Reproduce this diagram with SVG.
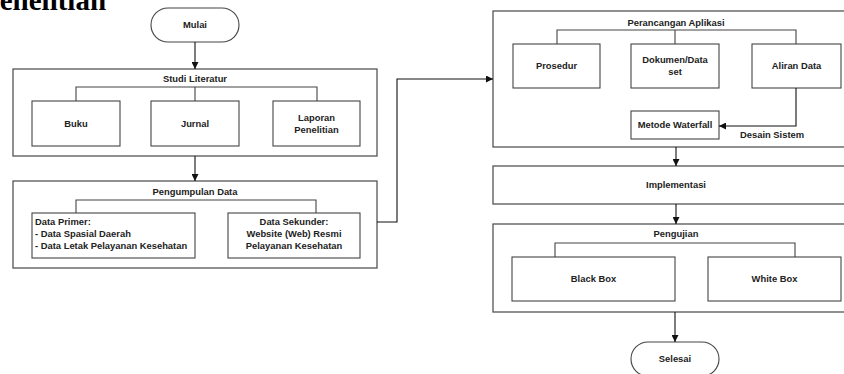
<svg xmlns="http://www.w3.org/2000/svg" width="844" height="374" viewBox="0 0 844 374">
<defs>
<marker id="ah" viewBox="0 0 10 10" refX="10" refY="5" markerWidth="7" markerHeight="7" markerUnits="userSpaceOnUse" orient="auto">
<path d="M0,0 L10,5 L0,10 z" fill="#111"/>
</marker>
</defs>
<style>
.outer{fill:#fff;stroke:#555;stroke-width:1.3}
.box{fill:#fff;stroke:#444;stroke-width:1.1}
.br{fill:none;stroke:#444;stroke-width:1.1}
.c{fill:none;stroke:#111;stroke-width:1.1}
text{font-family:"Liberation Sans",Arial,sans-serif;font-size:9.4px;font-weight:bold;fill:#222}
.m{text-anchor:middle}
.hd{font-family:"Liberation Serif","Times New Roman",serif;font-size:29px;font-weight:bold;fill:#000}
</style>
<rect width="844" height="374" fill="#fff"/>
<text class="hd" x="-18" y="10">Penelitian</text>

<g id="mulai"><rect class="box" x="151" y="8" width="88" height="34" rx="17"/><text class="m" x="195" y="28">Mulai</text></g>

<g id="studi-literatur">
<rect class="outer" x="13" y="69" width="364" height="87"/>
<text class="m" x="195" y="82">Studi Literatur</text>
<path class="br" d="M76,101 V87 H317 V101 M195,87 V101"/>
</g>
<g id="buku"><rect class="box" x="32" y="101" width="88" height="45"/><text class="m" x="76" y="127">Buku</text></g>
<g id="jurnal"><rect class="box" x="151" y="101" width="88" height="45"/><text class="m" x="195" y="127">Jurnal</text></g>
<g id="laporan"><rect class="box" x="273" y="101" width="87" height="45"/><text class="m" x="316.5" y="121">Laporan</text><text class="m" x="316.5" y="133">Penelitian</text></g>

<g id="pengumpulan-data">
<rect class="outer" x="13" y="181" width="364" height="87"/>
<text class="m" x="195" y="195">Pengumpulan Data</text>
<path class="br" d="M76,213 V200 H316 V213"/>
</g>
<g id="data-primer"><rect class="box" x="32" y="213" width="163" height="45"/>
<text x="35" y="225">Data Primer:</text><text x="35" y="237">- Data Spasial Daerah</text><text x="35" y="249">- Data Letak Pelayanan Kesehatan</text></g>
<g id="data-sekunder"><rect class="box" x="228" y="213" width="132" height="45"/>
<text class="m" x="294" y="225">Data Sekunder:</text><text class="m" x="294" y="237">Website (Web) Resmi</text><text class="m" x="294" y="249">Pelayanan Kesehatan</text></g>

<g id="perancangan-aplikasi">
<rect class="outer" x="493" y="11" width="360" height="136"/>
<text class="m" x="676" y="26">Perancangan Aplikasi</text>
<path class="br" d="M557,44 V30 H796 V44 M675,30 V44"/>
</g>
<g id="prosedur"><rect class="box" x="513" y="44" width="87" height="44"/><text class="m" x="556.5" y="69">Prosedur</text></g>
<g id="dokumen"><rect class="box" x="631" y="44" width="88" height="44"/><text class="m" x="675" y="63">Dokumen/Data</text><text class="m" x="675" y="75">set</text></g>
<g id="aliran-data"><rect class="box" x="752" y="44" width="89" height="44"/><text class="m" x="796.5" y="69">Aliran Data</text></g>
<g id="metode-waterfall"><rect class="box" x="631" y="111" width="88" height="28"/><text class="m" x="675" y="128">Metode Waterfall</text></g>

<g id="implementasi"><rect class="outer" x="493" y="166" width="360" height="38"/><text class="m" x="676" y="188">Implementasi</text></g>

<g id="pengujian">
<rect class="outer" x="493" y="224" width="360" height="88"/>
<text class="m" x="676" y="237">Pengujian</text>
<path class="br" d="M555,257 V243 H795 V257"/>
</g>
<g id="black-box"><rect class="box" x="512" y="257" width="163" height="44"/><text class="m" x="593.5" y="282">Black Box</text></g>
<g id="white-box"><rect class="box" x="708" y="257" width="133" height="44"/><text class="m" x="774.5" y="282">White Box</text></g>

<g id="selesai"><rect class="box" x="631" y="342" width="88" height="34" rx="17"/><text class="m" x="675" y="362">Selesai</text></g>

<g id="connectors">
<path class="c" d="M195,42 V69" marker-end="url(#ah)"/>
<path class="c" d="M195,156 V181" marker-end="url(#ah)"/>
<path class="c" d="M377,222 H397 V79 H493" marker-end="url(#ah)"/>
<path class="c" d="M796,88 V126 H719" marker-end="url(#ah)"/>
<text x="740" y="138">Desain Sistem</text>
<path class="c" d="M676,147 V166" marker-end="url(#ah)"/>
<path class="c" d="M676,204 V224" marker-end="url(#ah)"/>
<path class="c" d="M675,312 V342" stroke-width="1.6" marker-end="url(#ah)"/>
</g>
</svg>
